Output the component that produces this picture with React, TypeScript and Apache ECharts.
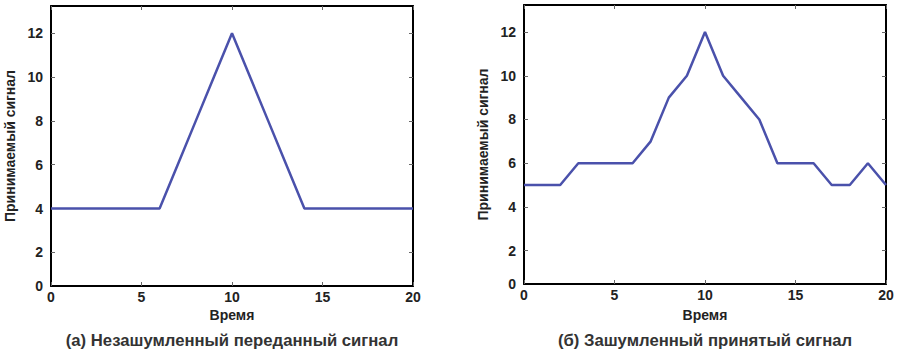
import React, { useEffect, useRef } from "react";
import * as echarts from "echarts";

const timeValues = [0, 1, 2, 3, 4, 5, 6, 7, 8, 9, 10, 11, 12, 13, 14, 15, 16, 17, 18, 19, 20];
const cleanSignal = [4, 4, 4, 4, 4, 4, 4, 6, 8, 10, 12, 10, 8, 6, 4, 4, 4, 4, 4, 4, 4];
const noisySignal = [5, 5, 5, 6, 6, 6, 6, 7, 9, 10, 12, 10, 9, 8, 6, 6, 6, 5, 5, 6, 5];
const xTicks = [0, 5, 10, 15, 20];
const yTicks = [2, 4, 6, 8, 10, 12];
const xAxisTitle = "Время";
const yAxisTitle = "Принимаемый сигнал";
const captions = ["(а) Незашумленный переданный сигнал", "(б) Зашумленный принятый сигнал"];

const Y_MIN = 0.47;
const Y_MAX = 13.24;
const FONT = "'Liberation Sans', Arial, sans-serif";
const LINE_COLOR = "#4a51ab";
const TEXT_COLOR = "#222";

export default function App() {
  const ref = useRef<HTMLDivElement>(null);
  useEffect(() => {
    if (!ref.current) return;
    const chart = echarts.init(ref.current, null, { renderer: "svg" });
    const grids = [
      { left: 51, top: 6, width: 362, height: 280 },
      { left: 524, top: 5, width: 362, height: 279 },
    ];
    const yVals = [Y_MIN, ...yTicks];
    const xAxes: any[] = [];
    const yAxes: any[] = [];
    grids.forEach((_, i) => {
      const tickStyle = { show: true, inside: true, length: 4, lineStyle: { color: "#666", width: 1 } };
      const axisLine = { show: true, onZero: false, lineStyle: { color: "#000", width: 2 } };
      xAxes.push({
        type: "value",
        gridIndex: i,
        min: 0,
        max: 20,
        position: "bottom",
        axisLine,
        axisTick: { ...tickStyle, customValues: xTicks },
        splitLine: { show: false },
        axisLabel: { customValues: xTicks, color: TEXT_COLOR, fontFamily: FONT, fontWeight: "bold", fontSize: 14, margin: 4 },
      });
      xAxes.push({
        type: "value",
        gridIndex: i,
        min: 0,
        max: 20,
        position: "top",
        axisLine,
        axisTick: { ...tickStyle, customValues: xTicks },
        splitLine: { show: false },
        axisLabel: { show: false },
      });
      yAxes.push({
        type: "value",
        gridIndex: i,
        min: Y_MIN,
        max: Y_MAX,
        position: "left",
        axisLine,
        axisTick: { ...tickStyle, customValues: yTicks },
        splitLine: { show: false },
        axisLabel: {
          customValues: yVals,
          formatter: (v: number) => (v === Y_MIN ? "0" : String(v)),
          color: TEXT_COLOR,
          fontFamily: FONT,
          fontWeight: "bold",
          fontSize: 14,
          margin: 8,
        },
        name: yAxisTitle,
        nameLocation: "middle",
        nameGap: 34,
        nameRotate: 90,
        nameMoveOverlap: false,
        nameTextStyle: { color: TEXT_COLOR, fontFamily: FONT, fontWeight: "bold", fontSize: 14 },
      });
      yAxes.push({
        type: "value",
        gridIndex: i,
        min: Y_MIN,
        max: Y_MAX,
        position: "right",
        axisLine,
        axisTick: { ...tickStyle, customValues: yTicks },
        splitLine: { show: false },
        axisLabel: { show: false },
      });
    });
    const seriesData = [cleanSignal, noisySignal];
    const graphics: any[] = [];
    grids.forEach((g, i) => {
      graphics.push({
        type: "text",
        x: g.left + g.width / 2,
        y: 315,
        style: {
          text: xAxisTitle,
          fill: TEXT_COLOR,
          font: `bold 14px ${FONT}`,
          textAlign: "center",
          textVerticalAlign: "middle",
        },
      });
      graphics.push({
        type: "text",
        x: g.left + g.width / 2,
        y: 340,
        style: {
          text: captions[i],
          fill: "#333",
          font: `bold 16.7px ${FONT}`,
          textAlign: "center",
          textVerticalAlign: "middle",
        },
      });
    });
    chart.setOption({
      animation: false,
      backgroundColor: "#fff",
      grid: grids,
      xAxis: xAxes,
      yAxis: yAxes,
      series: seriesData.map((vals, i) => ({
        type: "line",
        xAxisIndex: i * 2,
        yAxisIndex: i * 2,
        data: timeValues.map((t, k) => [t, vals[k]]),
        showSymbol: false,
        lineStyle: { color: LINE_COLOR, width: 2.5 },
        clip: false,
      })),
      graphic: graphics,
    });
    return () => chart.dispose();
  }, []);
  return <div ref={ref} style={{ width: 898, height: 354, position: "absolute", left: 0, top: 0 }} />;
}
